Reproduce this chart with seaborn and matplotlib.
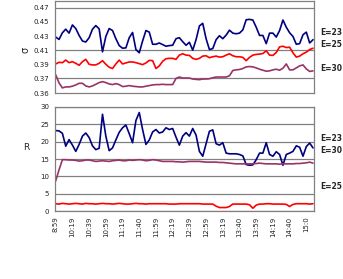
import matplotlib
matplotlib.use("Agg")
import matplotlib.pyplot as plt
import seaborn as sns
import pandas as pd

# sample index (every 2nd reading of 155)
sample_idx = list(range(0, 155, 2))

time_labels = ["8:59", "10:19", "10:39", "10:59", "11:19", "11:40", "11:59", "12:19",
               "12:39", "12:59", "13:19", "13:40", "13:59", "14:19", "14:40", "15:0"]
time_ticks = list(range(0, 151, 10))

# sigma values
sigma_e23 = [0.4286, 0.4253, 0.4347, 0.4398, 0.4342, 0.4458, 0.4407, 0.4309, 0.4230, 0.4216,
             0.4277, 0.4398, 0.4449, 0.4402, 0.4077, 0.4295, 0.4407, 0.4379, 0.4263, 0.4165,
             0.4128, 0.4133, 0.4277, 0.4351, 0.4109, 0.4063, 0.4230, 0.4379, 0.4356, 0.4184,
             0.4184, 0.4202, 0.4179, 0.4156, 0.4165, 0.4170, 0.4263, 0.4277, 0.4221, 0.4170,
             0.4212, 0.4100, 0.4249, 0.4444, 0.4481, 0.4263, 0.4109, 0.4123, 0.4249, 0.4305,
             0.4263, 0.4314, 0.4384, 0.4342, 0.4333, 0.4342, 0.4388, 0.4532, 0.4537, 0.4528,
             0.4426, 0.4309, 0.4309, 0.4193, 0.4342, 0.4342, 0.4286, 0.4379, 0.4528, 0.4426,
             0.4347, 0.4295, 0.4184, 0.4193, 0.4319, 0.4356, 0.4202, 0.4249]
sigma_e25 = [0.3905, 0.3928, 0.3923, 0.3960, 0.3923, 0.3937, 0.3914, 0.3886, 0.3937, 0.3970,
             0.3900, 0.3891, 0.3891, 0.3914, 0.3951, 0.3900, 0.3858, 0.3840, 0.3905, 0.3960,
             0.3905, 0.3919, 0.3933, 0.3933, 0.3923, 0.3909, 0.3895, 0.3919, 0.3956, 0.3951,
             0.3840, 0.3877, 0.3942, 0.3979, 0.3984, 0.3984, 0.3970, 0.4030, 0.4049, 0.4030,
             0.4026, 0.3984, 0.3970, 0.3984, 0.4016, 0.4021, 0.3993, 0.4007, 0.4016, 0.4002,
             0.4007, 0.4030, 0.4049, 0.4021, 0.4007, 0.4007, 0.3998, 0.3951, 0.3998, 0.4030,
             0.4040, 0.4044, 0.4053, 0.4091, 0.4030, 0.4026, 0.4067, 0.4147, 0.4156, 0.4137,
             0.4142, 0.4063, 0.4002, 0.4016, 0.4049, 0.4072, 0.4109, 0.4128]
sigma_e30 = [0.3751, 0.3635, 0.3565, 0.3579, 0.3579, 0.3589, 0.3607, 0.3630, 0.3630, 0.3593,
             0.3579, 0.3593, 0.3616, 0.3640, 0.3654, 0.3640, 0.3621, 0.3612, 0.3626, 0.3612,
             0.3584, 0.3589, 0.3598, 0.3589, 0.3584, 0.3579, 0.3579, 0.3589, 0.3598, 0.3607,
             0.3612, 0.3612, 0.3616, 0.3612, 0.3612, 0.3612, 0.3700, 0.3719, 0.3705, 0.3705,
             0.3705, 0.3691, 0.3686, 0.3682, 0.3691, 0.3691, 0.3695, 0.3709, 0.3719, 0.3719,
             0.3719, 0.3719, 0.3737, 0.3812, 0.3821, 0.3826, 0.3840, 0.3863, 0.3868, 0.3863,
             0.3849, 0.3830, 0.3816, 0.3802, 0.3807, 0.3821, 0.3830, 0.3816, 0.3844, 0.3905,
             0.3821, 0.3821, 0.3849, 0.3877, 0.3891, 0.3835, 0.3798, 0.3807]

# R values
r_e23 = [23.2, 23.1, 22.4, 18.7, 20.6, 19.0, 17.2, 19.2, 21.6, 22.5,
         21.2, 18.8, 17.7, 18.1, 27.9, 21.6, 17.4, 18.2, 20.5, 22.7,
         24.0, 24.8, 22.3, 19.7, 26.1, 28.4, 23.5, 19.2, 20.5, 22.8,
         23.5, 22.5, 22.8, 24.0, 23.5, 23.8, 21.3, 19.0, 21.6, 22.6,
         21.6, 23.8, 21.9, 17.2, 15.8, 19.4, 23.0, 23.4, 19.4, 19.0,
         19.7, 16.7, 16.5, 16.5, 16.5, 16.3, 15.9, 13.4, 13.2, 13.3,
         14.8, 16.7, 16.7, 19.7, 16.3, 15.8, 17.1, 16.3, 13.2, 16.3,
         16.7, 17.2, 18.8, 18.4, 15.8, 18.6, 19.6, 18.2]
r_e25 = [2.1, 2.0, 2.2, 2.1, 2.0, 2.1, 2.2, 2.1, 2.0, 2.2,
         2.1, 2.1, 2.0, 2.1, 2.2, 2.1, 2.1, 2.0, 2.1, 2.2,
         2.1, 2.0, 2.0, 2.1, 2.2, 2.1, 2.1, 2.0, 2.1, 2.1,
         2.1, 2.1, 2.1, 2.1, 2.0, 2.0, 2.0, 2.1, 2.1, 2.1,
         2.1, 2.1, 2.1, 2.1, 2.0, 2.0, 2.0, 2.0, 1.4, 1.0,
         1.0, 1.0, 1.3, 2.0, 2.0, 2.0, 2.0, 2.0, 1.8, 0.8,
         1.7, 2.0, 2.0, 2.1, 2.1, 2.0, 2.0, 2.0, 2.0, 1.9,
         1.3, 1.9, 2.1, 2.1, 2.1, 2.1, 2.0, 2.1]
r_e30 = [8.7, 11.9, 14.8, 14.8, 14.7, 14.7, 14.6, 14.4, 14.5, 14.7,
         14.7, 14.5, 14.3, 14.4, 14.5, 14.4, 14.3, 14.5, 14.6, 14.7,
         14.5, 14.5, 14.7, 14.6, 14.7, 14.8, 14.7, 14.5, 14.6, 14.8,
         14.7, 14.5, 14.3, 14.3, 14.3, 14.3, 14.2, 14.2, 14.1, 14.2,
         14.3, 14.3, 14.3, 14.3, 14.2, 14.1, 14.1, 14.1, 14.1, 14.0,
         14.0, 13.9, 13.8, 13.7, 13.6, 13.6, 13.6, 13.6, 13.6, 13.6,
         13.7, 13.8, 13.7, 13.6, 13.6, 13.6, 13.6, 13.5, 13.6, 13.6,
         13.6, 13.6, 13.7, 13.7, 13.8, 13.9, 14.1, 13.8]

sigma_ticks = [0.349, 0.37, 0.39, 0.41, 0.43, 0.45, 0.47]
sigma_tick_labels = ["0.36", "0.37", "0.39", "0.41", "0.43", "0.45", "0.47"]
r_ticks = [0, 5, 10, 15, 20, 25, 30]

colors = {"E=23": "#000080", "E=25": "#FF0000", "E=30": "#993366"}
GRID = "#808080"

sns.set_style("white")
plt.rcParams["font.family"] = ["DejaVu Sans"]

df_sigma = pd.DataFrame({
    "idx": sample_idx * 3,
    "val": sigma_e23 + sigma_e25 + sigma_e30,
    "E": ["E=23"] * len(sample_idx) + ["E=25"] * len(sample_idx) + ["E=30"] * len(sample_idx),
})
df_r = pd.DataFrame({
    "idx": sample_idx * 3,
    "val": r_e23 + r_e25 + r_e30,
    "E": ["E=23"] * len(sample_idx) + ["E=25"] * len(sample_idx) + ["E=30"] * len(sample_idx),
})

fig = plt.figure(figsize=(3.43, 2.79), dpi=100)
ax1 = fig.add_axes([0.160, 0.666, 0.755, 0.331])
ax2 = fig.add_axes([0.160, 0.2437, 0.755, 0.3728])


def style_axis(ax):
    for s in ax.spines.values():
        s.set_color(GRID)
        s.set_linewidth(0.9)
    ax.set_xlim(-0.5, 154.5)
    ax.tick_params(axis="both", length=2, width=0.6, color=GRID, labelsize=5,
                   labelcolor="#222222", pad=2)
    ax.set_xlabel("")
    ax.set_ylabel("")


# top panel: sigma
for lvl in ["E=30", "E=25", "E=23"]:
    sns.lineplot(data=df_sigma[df_sigma["E"] == lvl], x="idx", y="val", ax=ax1,
                 color=colors[lvl], linewidth=1.2, sort=False, legend=False)
style_axis(ax1)
ax1.set_ylim(0.349, 0.48)
ax1.set_yticks(sigma_ticks)
ax1.set_yticklabels(sigma_tick_labels)
ax1.set_xticks(time_ticks)
ax1.set_xticklabels([])
ax1.tick_params(axis="x", length=0)
for g in [0.37, 0.41, 0.47]:
    ax1.axhline(g, color=GRID, linewidth=0.9, zorder=0)

# bottom panel: R
for lvl in ["E=25", "E=23", "E=30"]:
    sns.lineplot(data=df_r[df_r["E"] == lvl], x="idx", y="val", ax=ax2,
                 color=colors[lvl], linewidth=1.2, sort=False, legend=False)
style_axis(ax2)
ax2.set_ylim(0, 30)
ax2.set_yticks(r_ticks)
ax2.set_xticks(time_ticks)
ax2.set_xticklabels(time_labels, rotation=90, fontsize=5)
ax2.yaxis.grid(True, color=GRID, linewidth=0.9)
ax2.set_axisbelow(True)

# axis titles
fig.text(0.073, 1 - 50 / 279, "σ", rotation=90, fontsize=7, ha="center", va="center")
fig.text(0.076, 1 - 147 / 279, "R", fontsize=6.5, ha="center", va="center")

# series labels at the right
for txt, y in [("E=23", 0.882), ("E=25", 0.842), ("E=30", 0.756),
               ("E=23", 0.505), ("E=30", 0.462), ("E=25", 0.333)]:
    fig.text(0.934, y, txt, fontsize=5.5, fontweight="bold", ha="left", va="center")

fig.savefig("out.png", dpi=100, facecolor="white")
